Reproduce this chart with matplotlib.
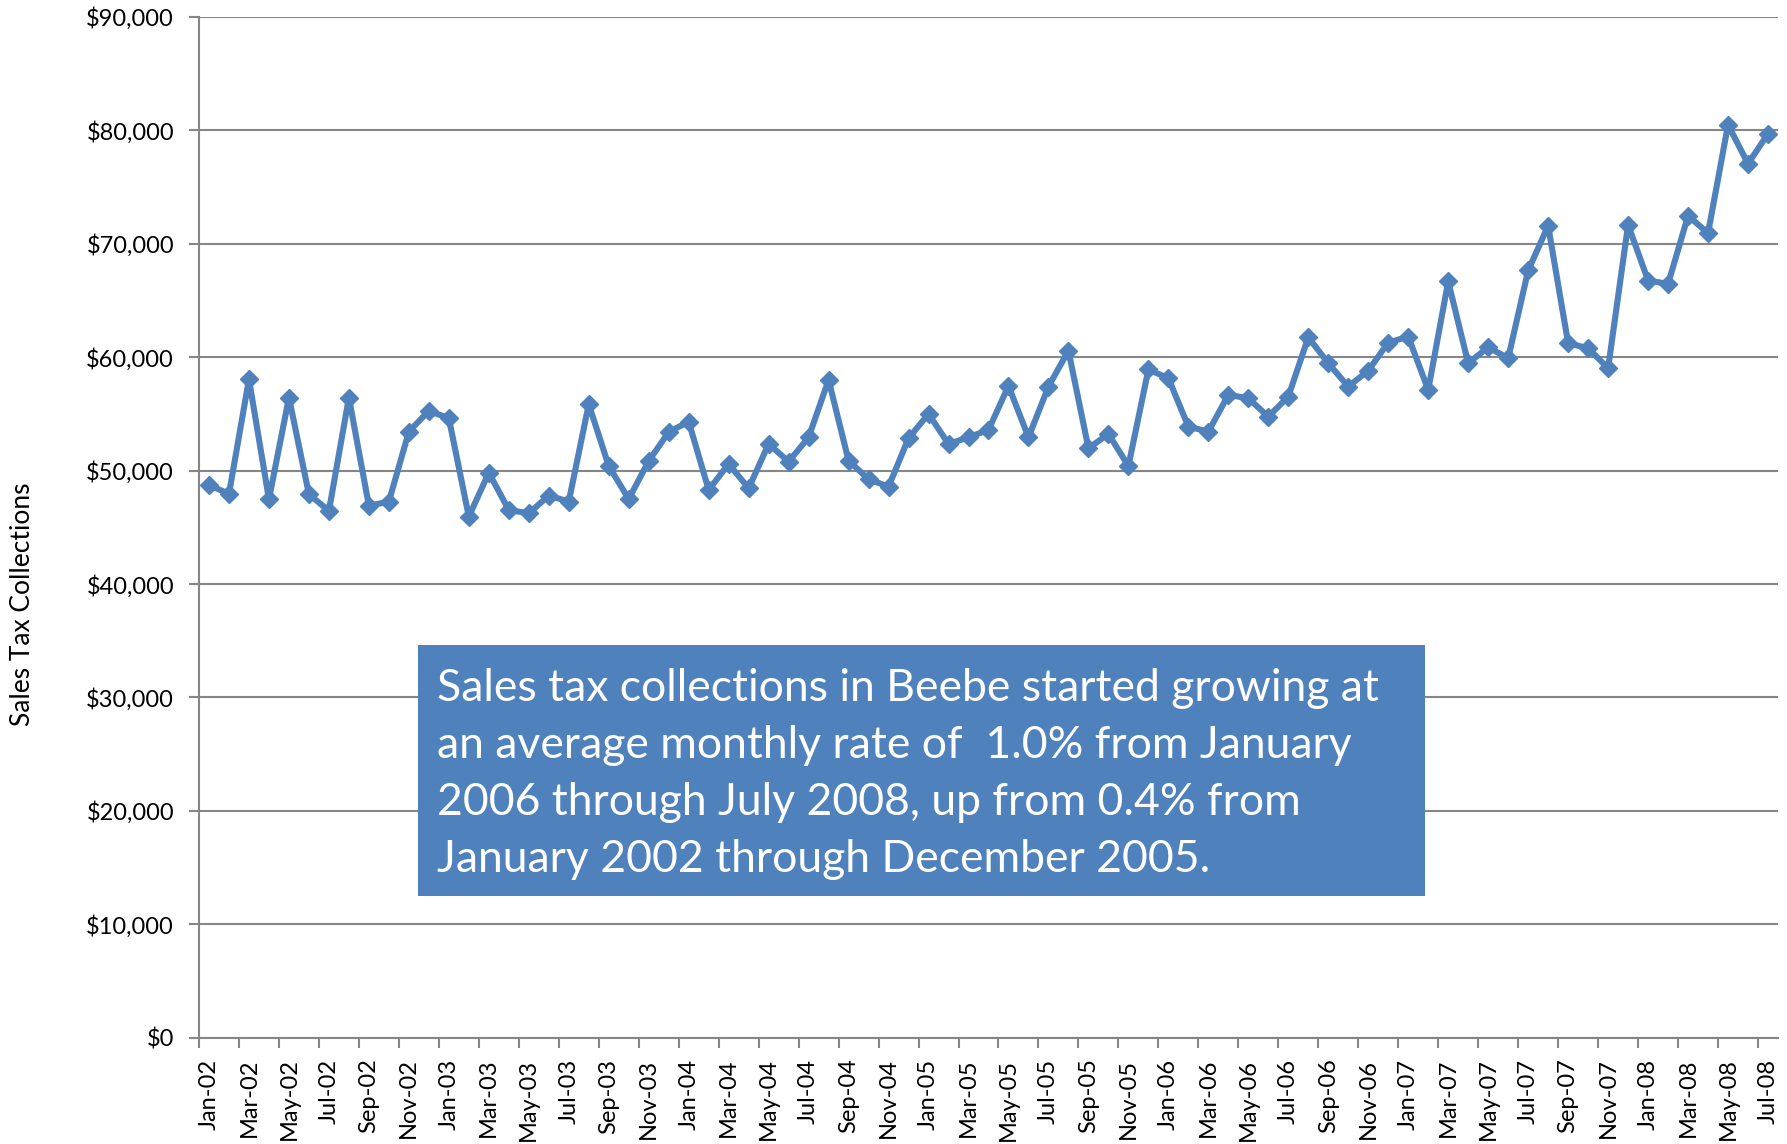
import matplotlib
matplotlib.use("Agg")
import matplotlib.pyplot as plt
from matplotlib.patches import Rectangle
import pandas as pd

plt.rcParams['font.family'] = ['Lato', 'DejaVu Sans']

# monthly sales tax collections, Jan 2002 - Jul 2008
y2002 = [48740, 47950, 58060, 47480, 56440, 47920, 46450, 56440, 46910, 47270, 53440, 55270]
y2003 = [54620, 45950, 49820, 46530, 46240, 47800, 47270, 55850, 50410, 47500, 50850, 53400]
y2004 = [54320, 48300, 50590, 48450, 52350, 50790, 52940, 58000, 50880, 49240, 48590, 52860]
y2005 = [55000, 52350, 52940, 53590, 57470, 52940, 57410, 60580, 51970, 53240, 50410, 58920]
y2006 = [58150, 53880, 53440, 56680, 56380, 54760, 56530, 61760, 59470, 57410, 58820, 61290]
y2007 = [61820, 57120, 66680, 59470, 60880, 59910, 67650, 71590, 61240, 60790, 59030, 71680]
y2008 = [66760, 66470, 72470, 70940, 80500, 77060, 79710]
collections = y2002 + y2003 + y2004 + y2005 + y2006 + y2007 + y2008
months = list(pd.date_range('2002-01-01', periods=len(collections), freq='MS').strftime('%b-%y'))

y_ticks = list(range(0, 90001, 10000))
note = ("Sales tax collections in Beebe started growing at\n"
        "an average monthly rate of  1.0% from January\n"
        "2006 through July 2008, up from 0.4% from\n"
        "January 2002 through December 2005.")

W, H = 1787, 1144
fig = plt.figure(figsize=(W / 100, H / 100), dpi=100)
ax = fig.add_axes([199 / W, 1 - 1037.7 / H, (1778 - 199) / W, (1037.7 - 17) / H])

x = list(range(len(collections)))
blue = '#4F81BD'
grey = '#868686'
ax.plot(x, collections, color=blue, lw=4.4, marker='D', ms=9, zorder=3, clip_on=False)

ax.set_xlim(-0.5, len(collections) - 0.5)
ax.set_ylim(0, 90000)
ax.set_yticks(y_ticks)
ax.set_yticklabels(['${:,}'.format(v) for v in y_ticks])
ax.yaxis.grid(True, color=grey, lw=1.5)
ax.set_axisbelow(True)

# ticks between categories, labels on every second category
ax.set_xticks([i - 0.5 for i in range(0, len(collections), 2)])
ax.set_xticklabels([])
ax.set_xticks(x[::2], minor=True)
ax.set_xticklabels(months[::2], minor=True, rotation=90, fontsize=17)
ax.tick_params(axis='x', which='major', length=7, width=1.5, color=grey)
ax.tick_params(axis='x', which='minor', length=0, pad=15)
ax.tick_params(axis='y', length=7, width=1.5, color=grey, labelsize=17, pad=11)

for s in ['top', 'right']:
    ax.spines[s].set_visible(False)
for s in ['left', 'bottom']:
    ax.spines[s].set_color(grey)
    ax.spines[s].set_linewidth(1.5)

fig.text(23 / W, 1 - 604 / H, 'Sales Tax Collections', rotation=90,
         ha='center', va='center', fontsize=19)

fig.patches.append(Rectangle((418 / W, 1 - 896 / H), (1425 - 418) / W, (896 - 645) / H,
                             transform=fig.transFigure, facecolor=blue, edgecolor='none', zorder=5))
fig.text(437 / W, 1 - 668 / H, note, color='white', fontsize=32, ha='left', va='top',
         linespacing=1.48, zorder=6)

fig.savefig('out.png', dpi=100)
